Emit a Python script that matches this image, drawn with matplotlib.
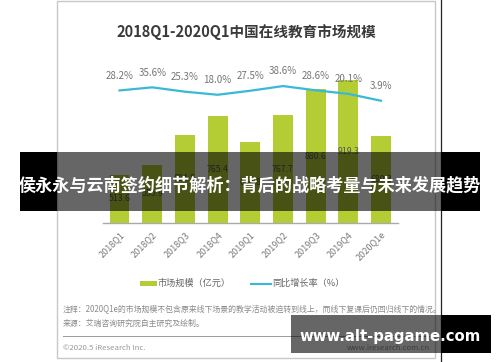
import matplotlib
matplotlib.use("Agg")
import matplotlib.pyplot as plt
from matplotlib.patches import Rectangle
from matplotlib.lines import Line2D

plt.rcParams['font.family'] = ['Noto Sans CJK SC', 'DejaVu Sans']

# ---- data ----
quarters = ["2018Q1", "2018Q2", "2018Q3", "2018Q4", "2019Q1",
            "2019Q2", "2019Q3", "2019Q4", "2020Q1e"]
market_size = [513.6, 555.9, 684.8, 765.4, 654.8, 767.7, 880.6, 919.3, 680.3]
growth_rate = [28.2, 35.6, 25.3, 18.0, 27.5, 38.6, 28.6, 20.1, 3.9]

title = "2018Q1-2020Q1中国在线教育市场规模"
legend_bar = "市场规模（亿元）"
legend_line = "同比增长率（%）"
note1 = "注释：2020Q1e的市场规模不包含原来线下场景的教学活动被迫转到线上，而线下复课后仍回归线下的情况。"
note2 = "来源：艾瑞咨询研究院自主研究及绘制。"
copyright_txt = "©2020.5 iResearch Inc."
site_txt = "www.iresearch.com.cn"
banner_txt = "侯永永与云南签约细节解析：背后的战略考量与未来发展趋势"
watermark_txt = "www.alt-pagame.com"

BAR_C = "#b4cd35"
LINE_C = "#3ab9d6"

W, H = 500, 362
fig = plt.figure(figsize=(W / 100, H / 100), dpi=100)
fig.patch.set_facecolor("white")

# background/card layer in pixel coords
bg = fig.add_axes([0, 0, 1, 1], zorder=0)
bg.set_xlim(0, W); bg.set_ylim(H, 0); bg.axis("off")
bg.add_patch(Rectangle((57, 1), 378, 357, facecolor="white", edgecolor="#c8c8c8", lw=1.0))
bg.add_line(Line2D([441, 441], [0, H], color="#222222", lw=0.9))
bg.text(246, 32, title, ha="center", va="center", fontsize=10.5, fontweight="bold", color="#3a3a3a")

# legend
bg.add_patch(Rectangle((140, 281), 17, 5, facecolor=BAR_C, edgecolor="none"))
bg.text(158, 283.5, legend_bar, ha="left", va="center", fontsize=6.6, color="#666666")
bg.add_line(Line2D([251, 271], [283.5, 283.5], color=LINE_C, lw=1.5))
bg.text(272, 283.5, legend_line, ha="left", va="center", fontsize=6.6, color="#666666")

# notes
bg.text(63, 309, note1, ha="left", va="center", fontsize=5.7, color="#8a8a8a")
bg.text(63, 323, note2, ha="left", va="center", fontsize=5.7, color="#8a8a8a")
bg.add_line(Line2D([63, 430], [336, 336], color="#9a9a9a", lw=0.7))
bg.text(63, 348, copyright_txt, ha="left", va="center", fontsize=5.6, color="#999999")
bg.text(430, 348, site_txt, ha="right", va="center", fontsize=5.6, color="#999999")

# ---- chart axes ----
ax_bottom_px, ax_top_px = 223, 60
ax_left_px, ax_right_px = 103, 398
ax = fig.add_axes([ax_left_px / W, 1 - ax_bottom_px / H,
                   (ax_right_px - ax_left_px) / W, (ax_bottom_px - ax_top_px) / H], zorder=1)
ax.patch.set_alpha(0)
x = list(range(len(quarters)))
ax.bar(x, market_size, width=0.61, color=BAR_C, zorder=2, bottom=0)
ax.set_xlim(-0.505, 8.52)
ax.set_ylim(308, 1004.6)
for xi, v in zip(x, market_size):
    ax.text(xi, (308 + v) / 2, f"{v:.1f}", ha="center", va="center", fontsize=6.3, color="#555555", zorder=3)
for s in ["top", "left", "right"]:
    ax.spines[s].set_visible(False)
ax.spines["bottom"].set_color("#aaaaaa")
ax.spines["bottom"].set_linewidth(1.0)
ax.set_yticks([])
ax.set_xticks(x)
ax.set_xticklabels(quarters, rotation=45, ha="right", va="top", rotation_mode="anchor",
                   fontsize=6.5, color="#7a7a7a")
ax.tick_params(axis="x", length=0, pad=5)

ax2 = ax.twinx()
ax2.set_ylim(-285.1, 100.2)
ax2.plot(x, growth_rate, color=LINE_C, lw=1.6, zorder=4)
ax2.set_yticks([])
for s in ["top", "left", "right", "bottom"]:
    ax2.spines[s].set_visible(False)
for xi, g in zip(x, growth_rate):
    ax2.annotate(f"{g:.1f}%", (xi, g), xytext=(0, 10.5), textcoords="offset points",
                 ha="center", va="center", fontsize=7, color="#757575", zorder=5)

# ---- overlays ----
ov = fig.add_axes([0, 0, 1, 1], zorder=10)
ov.set_xlim(0, W); ov.set_ylim(H, 0); ov.axis("off")
ov.patch.set_alpha(0)
# banner
ov.add_patch(Rectangle((20, 152), 37, 59, facecolor="black", edgecolor="none"))
ov.add_patch(Rectangle((57, 152), 384, 59, facecolor="black", alpha=0.6, edgecolor="none"))
ov.add_patch(Rectangle((441, 152), 39, 59, facecolor="black", edgecolor="none"))
ov.text(250, 185, banner_txt, ha="center", va="center", fontsize=12.3, fontweight="bold", color="white")
# watermark box
ov.add_patch(Rectangle((291, 315), 150, 38, facecolor="black", alpha=0.6, edgecolor="none"))
ov.add_patch(Rectangle((441, 315), 50, 38, facecolor="black", edgecolor="none"))
ov.text(390, 336, watermark_txt, ha="center", va="center", fontsize=10.7, fontweight="bold",
        color="white", family=["DejaVu Sans"])

fig.savefig("out.png", dpi=100, facecolor="white")
